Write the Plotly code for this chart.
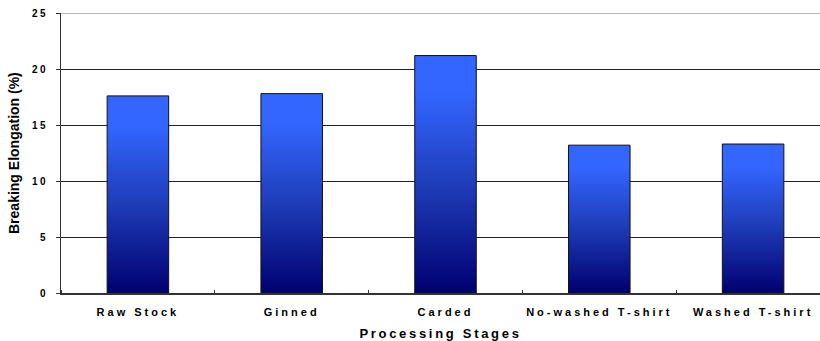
import plotly.graph_objects as go

# Breaking elongation measured at each cotton processing stage
stages = ["Raw Stock", "Ginned", "Carded", "No-washed T-shirt", "Washed T-shirt"]
elongation = [17.6, 17.8, 21.2, 13.2, 13.3]

y_ticks = [0, 5, 10, 15, 20, 25]
y_title = "Breaking Elongation (%)"
x_title = "Processing Stages"

BAR_HALF = 0.2
GRADIENT = [[0.0, "#000070"], [0.45, "#1E3CB8"], [0.85, "#3366FF"], [1.0, "#3366FF"]]
FONT = "Liberation Sans, Arial, sans-serif"

fig = go.Figure()

# Each bar is a filled outline so it can carry its own vertical gradient
for i, (name, v) in enumerate(zip(stages, elongation)):
    fig.add_trace(go.Scatter(
        x=[i - BAR_HALF, i + BAR_HALF, i + BAR_HALF, i - BAR_HALF, i - BAR_HALF],
        y=[0, 0, v, v, 0],
        mode="lines",
        fill="toself",
        fillgradient=dict(type="vertical", colorscale=GRADIENT),
        line=dict(color="#111111", width=1),
        name=name,
        hovertemplate=f"{name}: {v}%<extra></extra>",
        showlegend=False,
    ))

# Top border line at the upper end of the value axis
fig.add_shape(type="line", xref="paper", x0=0, x1=1, yref="y",
              y0=max(y_ticks), y1=max(y_ticks),
              line=dict(color="#777777", width=1), layer="below")

# Value-axis caption placed a little further out than the default title
fig.add_annotation(text=y_title, textangle=-90, showarrow=False,
                   xref="paper", x=0, xanchor="right", xshift=-37,
                   yref="paper", y=0.5, yanchor="middle",
                   font=dict(size=14, family=FONT, weight="bold", color="black"))

fig.update_layout(
    width=820,
    height=341,
    margin=dict(l=61, r=0, t=13, b=48),
    paper_bgcolor="white",
    plot_bgcolor="white",
    font=dict(family=FONT, color="black"),
    xaxis=dict(
        range=[-0.5, 4.435],
        tickmode="array",
        tickvals=list(range(len(stages))),
        ticktext=stages,
        ticks="",
        ticklabelstandoff=8,
        tickfont=dict(size=11, family=FONT, weight="bold"),
        minor=dict(tick0=0.5, dtick=1, ticks="inside", ticklen=3,
                   tickcolor="#333333", tickwidth=1),
        showgrid=False,
        zeroline=False,
        showline=True,
        linecolor="#333333",
        linewidth=1.5,
        title=dict(text=x_title, standoff=12,
                   font=dict(size=13, family=FONT, weight="bold")),
    ),
    yaxis=dict(
        range=[0, 25],
        tickmode="array",
        tickvals=y_ticks,
        ticks="outside",
        ticklen=4,
        tickcolor="#333333",
        ticklabelstandoff=6,
        tickfont=dict(size=10, family=FONT, weight="bold"),
        showgrid=True,
        gridcolor="#222222",
        gridwidth=1,
        zeroline=False,
        showline=True,
        linecolor="#333333",
        linewidth=1,
    ),
)

# Wide letter spacing on the tick labels and the category-axis caption
spacing_js = """
var css = document.createElement('style');
css.textContent = '.xtick text{letter-spacing:3px !important;}' +
                  '.g-xtitle text{letter-spacing:2.7px !important;}' +
                  '.ytick text{letter-spacing:2.5px !important;}';
document.head.appendChild(css);
"""

fig.write_html("out.html", post_script=spacing_js)
